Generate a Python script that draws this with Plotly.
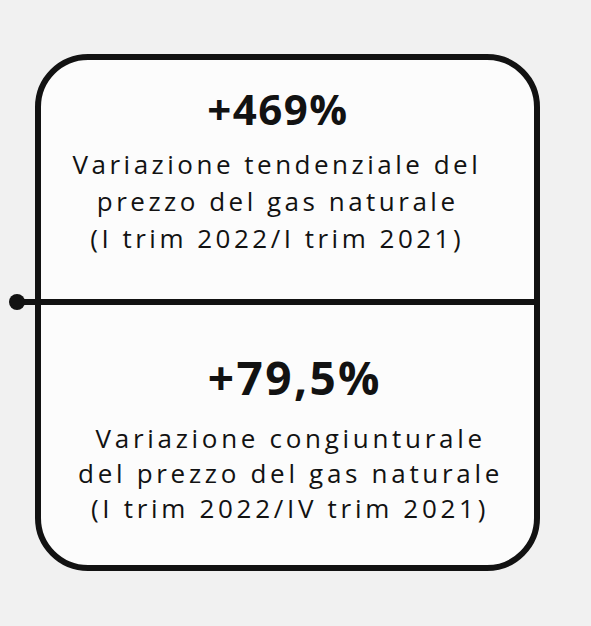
import json
import plotly.graph_objects as go

# ---- content ----
headline_values = ["+469%", "+79,5%"]
upper_lines = ["Variazione tendenziale del", "prezzo del gas naturale", "(I trim 2022/I trim 2021)"]
lower_lines = ["Variazione congiunturale", "del prezzo del gas naturale", "(I trim 2022/IV trim 2021)"]

W, H = 591, 626
INK = "#121212"

fig = go.Figure()

# rounded box
x0, x1, y0, y1, r = 38, 537, 57, 568, 50
k = 0.5523 * r
path = (
    f"M {x0+r},{y0} L {x1-r},{y0} C {x1-r+k},{y0} {x1},{y0+r-k} {x1},{y0+r} "
    f"L {x1},{y1-r} C {x1},{y1-r+k} {x1-r+k},{y1} {x1-r},{y1} "
    f"L {x0+r},{y1} C {x0+r-k},{y1} {x0},{y1-r+k} {x0},{y1-r} "
    f"L {x0},{y0+r} C {x0},{y0+r-k} {x0+r-k},{y0} {x0+r},{y0} Z"
)
shapes = [
    dict(type="path", path=path, line=dict(color=INK, width=6), fillcolor="#fcfcfc", layer="below"),
    dict(type="line", x0=17, x1=x1, y0=302, y1=302, line=dict(color=INK, width=6)),
    dict(type="circle", x0=9, x1=25, y0=294, y1=310, line=dict(color=INK, width=0), fillcolor=INK),
]

annotations = []
spacings = []

def add(text, x, y, size, weight, spacing):
    annotations.append(dict(
        text=text, x=x, y=y, xref="x", yref="y", xanchor="center", yanchor="middle",
        showarrow=False,
        font=dict(family="Open Sans", size=size, color=INK, weight=weight),
    ))
    spacings.append(spacing)

# upper block
add(headline_values[0], 278, 108, 42, 700, 1.5)
for txt, yy in zip(upper_lines, [164, 201, 238]):
    add(txt, 277, yy, 26, 500, 3.5)

# lower block
add(headline_values[1], 295, 377, 46, 700, 2.4)
for txt, yy in zip(lower_lines, [438, 473, 508]):
    add(txt, 290, yy, 26, 500, 3.7)

fig.update_layout(
    width=W, height=H,
    margin=dict(l=0, r=0, t=0, b=0),
    paper_bgcolor="#f1f1f1", plot_bgcolor="rgba(0,0,0,0)",
    xaxis=dict(range=[0, W], visible=False, fixedrange=True),
    yaxis=dict(range=[H, 0], visible=False, fixedrange=True),
    shapes=shapes, annotations=annotations, showlegend=False,
)

post = (
    "document.body.style.margin='0';document.body.style.background='#f1f1f1';"
    "var sp = " + json.dumps(spacings) + ";"
    "document.querySelectorAll('g.annotation').forEach(function(g){"
    " var i = parseInt(g.getAttribute('data-index'));"
    " var t = g.querySelector('text.annotation-text');"
    " if (t && !isNaN(i)) { t.style.letterSpacing = sp[i] + 'px'; }"
    "});"
)

fig.write_html("out.html", config={"displayModeBar": False, "staticPlot": True}, post_script=post)
